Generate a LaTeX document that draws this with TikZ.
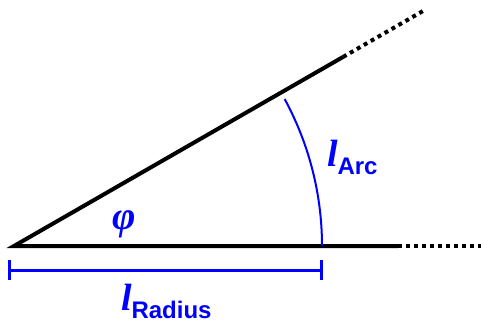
\documentclass[tikz,border=0pt]{standalone}
\usepackage{fontspec}
\setmainfont{Liberation Serif}
\newfontfamily\subfont{Liberation Sans}
\definecolor{myblue}{RGB}{0,0,255}
\begin{document}
\begin{tikzpicture}[x=1pt,y=-1pt,
  leg/.style={line width=4pt,black,line join=miter},
  legdots/.style={line width=4pt,black,dash pattern=on 4pt off 4pt},
  bluearc/.style={line width=2pt,myblue},
  dimline/.style={line width=3pt,myblue},
  lbl/.style={inner sep=0pt,outer sep=0pt,text=myblue,anchor=base west}]
\useasboundingbox (0,0) rectangle (481,323);
\coordinate (O) at (14,246);
\coordinate (B) at (398,246);
\coordinate (B2) at (481,246);
\coordinate (U) at (343,57);
\coordinate (U2) at (423,11);
\draw[leg] (U) -- (O) -- (B);
\draw[legdots] (B) -- (B2);
\draw[legdots] (U) -- (U2);
\draw[bluearc] ([xshift=308pt]O) arc[start angle=0,end angle=28.5,radius=308pt];
\coordinate (DL) at (9,270);
\coordinate (DR) at (321,270);
\draw[dimline] (DL) -- (DR);
\draw[dimline] ([yshift=-10pt]DL) -- ([yshift=10pt]DL);
\draw[dimline] ([yshift=-10pt]DR) -- ([yshift=10pt]DR);
\node[lbl] (lrad) at (121,310) {\fontsize{38}{38}\selectfont\bfseries\itshape l\raisebox{-8pt}{\subfont\upshape\fontsize{24}{24}\selectfont Radius}};
\node[lbl] (larc) at (327,166) {\fontsize{38}{38}\selectfont\bfseries\itshape l\raisebox{-9pt}{\subfont\upshape\fontsize{24}{24}\selectfont Arc}};
\node[lbl] (phi) at (112,229) {\fontsize{40}{40}\selectfont\bfseries\itshape φ};
\end{tikzpicture}
\end{document}
